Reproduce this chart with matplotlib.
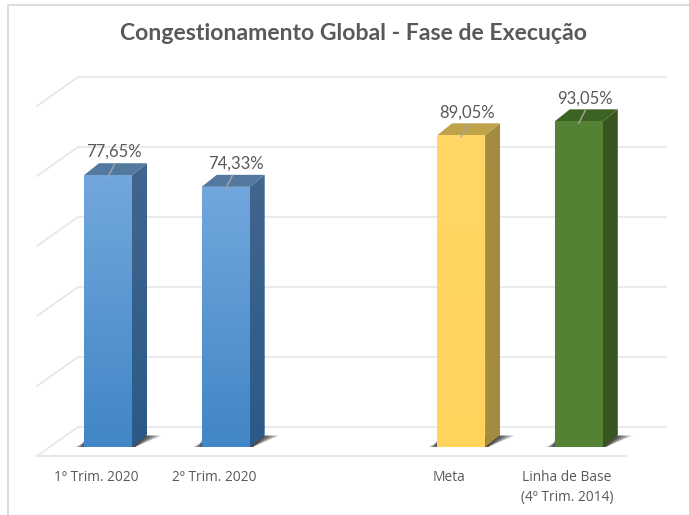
import numpy as np
import matplotlib
matplotlib.use('Agg')
import matplotlib.pyplot as plt
from matplotlib.patches import Polygon
from matplotlib.colors import LinearSegmentedColormap

title = 'Congestionamento Global - Fase de Execução'
labels = ['1º Trim. 2020', '2º Trim. 2020', 'Meta', 'Linha de Base\n(4º Trim. 2014)']
values = [77.65, 74.33, 89.05, 93.05]
value_labels = ['77,65%', '74,33%', '89,05%', '93,05%']
positions = [0, 1, 3, 4]
grid_values = [0, 20, 40, 60, 80, 100]

# top colour, bottom colour, side, top face
front_top = ['#72a7dd', '#72a7dd', '#ffd766', '#558235']
front_bottom = ['#4186c6', '#4186c6', '#ffd35c', '#548234']
side_top = ['#41668f', '#41668f', '#a38c3f', '#36551f']
side_bottom = ['#2b5a88', '#2b5a88', '#a38c3f', '#36551f']
top_face = ['#54799f', '#54799f', '#bfa34b', '#3d6324']

plt.rcParams['font.family'] = ['Lato', 'DejaVu Sans']

W, H = 689, 515
BASE_PX = 447      # pixel row of value 0 on the bar front
PX_PER_VAL = 3.5
CAT_STEP = 117.7   # pixels between categories
CAT0_PX = 108
BAR_W = 48 / CAT_STEP
DX = 15 / CAT_STEP  # depth of the 3d bars
DY = 12 / PX_PER_VAL

fig = plt.figure(figsize=(W / 100, H / 100), dpi=100)
ax = fig.add_axes([0, 0, 1, 1])
xlim = (-CAT0_PX / CAT_STEP, (W - CAT0_PX) / CAT_STEP)
ylim = ((BASE_PX - H) / PX_PER_VAL, BASE_PX / PX_PER_VAL)
ax.axis('off')


def px_x(px):
    return (px - CAT0_PX) / CAT_STEP


def px_y(px):
    return (BASE_PX - px) / PX_PER_VAL


# wall / floor lines
y_front = -9 / PX_PER_VAL
y_back = 20 / PX_PER_VAL
grid_c = '#e6e6e6'
for v in grid_values:
    ax.plot([px_x(37), px_x(78), px_x(666)], [v + y_front, v + y_back, v + y_back],
            color=grid_c, lw=1.2, zorder=1, solid_joinstyle='miter')
ax.plot([px_x(37), px_x(626)], [y_front, y_front], color=grid_c, lw=1.6, zorder=1)

# chart frame
ax.plot([px_x(689), px_x(7.5), px_x(7.5)], [px_y(5), px_y(5), ylim[0]], color='#d9d9d9', lw=1.3, zorder=1)

for i, p in enumerate(positions):
    v = values[i]
    l, r = p - BAR_W / 2, p + BAR_W / 2

    # soft shadow on the floor
    for k in range(8):
        sh = Polygon([[l - k * 0.011, 0], [r + DX * 0.2, 0], [r + DX + k * 0.018, DY * 0.95],
                      [r + DX * 0.5, DY * 0.95], [l - k * 0.002, DY * (0.55 - k * 0.04)]],
                     closed=True, fc='black', ec='none', alpha=0.14, zorder=2)
        ax.add_patch(sh)

    # side face with gradient
    side = Polygon([[r, 0], [r + DX, DY], [r + DX, v + DY], [r, v]], closed=True, fc='none', ec='none')
    ax.add_patch(side)
    cm = LinearSegmentedColormap.from_list('s', [side_bottom[i], side_top[i]])
    im = ax.imshow(np.linspace(1, 0, 64).reshape(-1, 1), cmap=cm, aspect='auto', zorder=3,
                   extent=(r, r + DX, 0, v + DY))
    im.set_clip_path(side)

    # top face
    ax.add_patch(Polygon([[l, v], [r, v], [r + DX, v + DY], [l + DX, v + DY]], closed=True,
                         fc=top_face[i], ec='none', zorder=3))

    # front face with gradient
    bars = ax.bar(p, v, width=BAR_W, color='none', zorder=4)
    cm = LinearSegmentedColormap.from_list('f', [front_bottom[i], front_top[i]])
    im = ax.imshow(np.linspace(1, 0, 64).reshape(-1, 1), cmap=cm, aspect='auto', zorder=4,
                   extent=(l, r, 0, v))
    im.set_clip_path(bars[0])

    # leader line and value label
    ax.plot([p, p + DX * 0.45], [v - 0.5, v + DY * 0.95], color='#a6a6a6', lw=1, zorder=5)
    shift = 0.085 if i == 1 else 0.05
    ax.text(p + shift, v + DY + 0.9, value_labels[i], ha='center', va='bottom', fontsize=12,
            color='#595959', zorder=6)

    ax.text(p - 0.1, px_y(470), labels[i], ha='center', va='top', family=['Open Sans', 'DejaVu Sans'],
            fontsize=9.9, color='#595959', linespacing=1.45, zorder=6)

ax.set_xlim(xlim)
ax.set_ylim(ylim)
ax.text(px_x(353), px_y(33), title, ha='center', va='center',
        fontsize=16.6, fontweight='bold', color='#595959')

fig.savefig('out.png', dpi=100)
